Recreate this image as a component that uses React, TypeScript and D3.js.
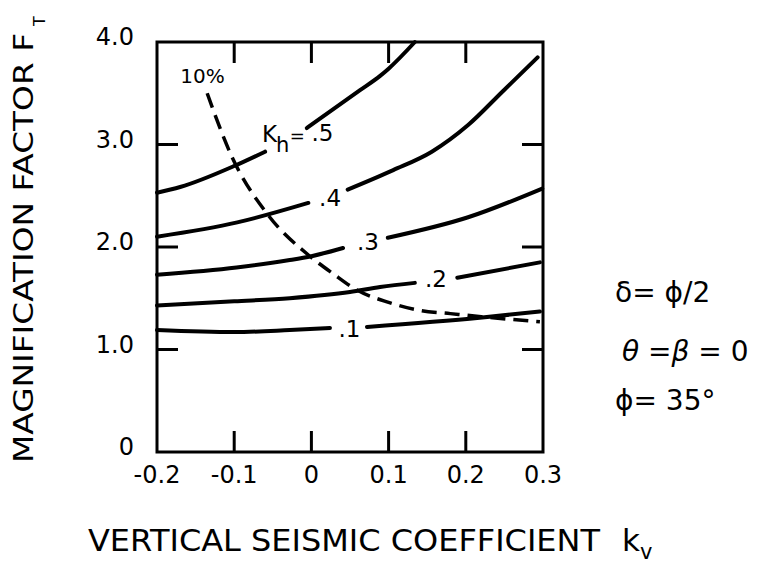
import React from "react";
import * as d3 from "d3";

// ---- data ----
const xTicks = [-0.2, -0.1, 0, 0.1, 0.2, 0.3];
const xTickLabels = ["-0.2", "-0.1", "0", "0.1", "0.2", "0.3"];
const yTicks = [0, 1, 2, 3, 4];
const yTickLabels = ["0", "1.0", "2.0", "3.0", "4.0"];

// each curve: two segments (gap left for its label)
const kh5a: [number, number][] = [[-0.2, 2.53], [-0.17, 2.585], [-0.1, 2.79], [-0.06, 2.93]];
const kh5b: [number, number][] = [[-0.006, 3.16], [0.063, 3.53], [0.089, 3.67], [0.1, 3.74], [0.134, 4.0]];
const kh4a: [number, number][] = [[-0.2, 2.1], [-0.096, 2.24], [-0.004, 2.43]];
const kh4b: [number, number][] = [[0.047, 2.56], [0.106, 2.75], [0.156, 2.93], [0.203, 3.19], [0.248, 3.52], [0.293, 3.85]];
const kh3a: [number, number][] = [[-0.2, 1.73], [-0.097, 1.8], [-0.03, 1.87], [0.0, 1.91], [0.041, 1.99]];
const kh3b: [number, number][] = [[0.099, 2.09], [0.203, 2.29], [0.299, 2.57]];
const kh2a: [number, number][] = [[-0.2, 1.43], [-0.1, 1.47], [-0.028, 1.5], [0.05, 1.56], [0.089, 1.61], [0.134, 1.65]];
const kh2b: [number, number][] = [[0.189, 1.7], [0.296, 1.85]];
const kh1a: [number, number][] = [[-0.2, 1.19], [-0.1, 1.17], [-0.028, 1.19], [0.024, 1.21]];
const kh1b: [number, number][] = [[0.072, 1.22], [0.218, 1.31], [0.296, 1.37]];
const tenPct: [number, number][] = [
  [-0.135, 3.5], [-0.103, 2.88], [-0.058, 2.33], [-0.002, 1.91], [0.028, 1.74],
  [0.059, 1.58], [0.1, 1.46], [0.141, 1.38], [0.18, 1.35], [0.22, 1.32], [0.296, 1.27],
];

const solidSegments = [kh5a, kh5b, kh4a, kh4b, kh3a, kh3b, kh2a, kh2b, kh1a, kh1b];

// ---- layout ----
const W = 761, H = 566;
const L = 157, R = 543, T = 42, B = 452;
const FONT = "'DejaVu Sans', sans-serif";

export default function App() {
  const x = d3.scaleLinear().domain([-0.2, 0.3]).range([L, R]);
  const y = d3.scaleLinear().domain([0, 4]).range([B, T]);
  const line = d3
    .line<[number, number]>()
    .x((d) => x(d[0]))
    .y((d) => y(d[1]))
    .curve(d3.curveMonotoneX);

  const innerX = xTicks.slice(1, -1);
  const innerY = yTicks.slice(1, -1);
  const tickLen = 21;

  return (
    <svg
      width={W}
      height={H}
      style={{ position: "absolute", left: 0, top: 0, background: "#fff" }}
      fontFamily={FONT}
    >
      <rect x={0} y={0} width={W} height={H} fill="#fff" />
      {/* frame */}
      <rect x={L} y={T} width={R - L} height={B - T} fill="none" stroke="#000" strokeWidth={3} />
      {/* ticks */}
      {innerX.map((v) => (
        <g key={"xt" + v} stroke="#000" strokeWidth={3}>
          <line x1={x(v)} x2={x(v)} y1={B} y2={B - tickLen} />
          <line x1={x(v)} x2={x(v)} y1={T} y2={T + tickLen} />
        </g>
      ))}
      {innerY.map((v) => (
        <g key={"yt" + v} stroke="#000" strokeWidth={3}>
          <line x1={L} x2={L + tickLen} y1={y(v)} y2={y(v)} />
          <line x1={R} x2={R - tickLen} y1={y(v)} y2={y(v)} />
        </g>
      ))}
      {/* tick labels */}
      {xTicks.map((v, i) => (
        <text key={"xl" + v} x={x(v)} y={B + 31} fontSize={24} textAnchor="middle">
          {xTickLabels[i]}
        </text>
      ))}
      {yTicks.map((v, i) => (
        <text key={"yl" + v} x={134} y={y(v) + 3} fontSize={24} textAnchor="end">
          {yTickLabels[i]}
        </text>
      ))}
      {/* curves */}
      {solidSegments.map((s, i) => (
        <path key={"c" + i} d={line(s) || ""} fill="none" stroke="#000" strokeWidth={4} strokeLinecap="round" />
      ))}
      <path d={line(tenPct) || ""} fill="none" stroke="#000" strokeWidth={3.5} strokeDasharray="15 8" />
      {/* curve labels */}
      <text x={x(-0.141)} y={y(3.6)} fontSize={20} textAnchor="middle">10%</text>
      <text x={x(-0.064)} y={y(3.02)} fontSize={23}>K</text>
      <text x={x(-0.046)} y={y(2.93)} fontSize={21}>h</text>
      <text x={x(-0.028)} y={y(3.02)} fontSize={18}>=</text>
      <text x={x(0.0)} y={y(3.03)} fontSize={23}>.5</text>
      <text x={x(0.01)} y={y(2.4)} fontSize={23}>.4</text>
      <text x={x(0.059)} y={y(1.97)} fontSize={23}>.3</text>
      <text x={x(0.147)} y={y(1.61)} fontSize={23}>.2</text>
      <text x={x(0.035)} y={y(1.12)} fontSize={23}>.1</text>
      {/* side annotations */}
      <text x={615} y={302} fontSize={28}>δ= ϕ/2</text>
      <text x={622} y={361} fontSize={28}>
        <tspan fontStyle="italic">θ</tspan> =<tspan fontStyle="italic">β</tspan> = 0
      </text>
      <text x={615} y={410} fontSize={28}>ϕ= 35°</text>
      {/* axis titles */}
      <text x={88} y={551} fontSize={30} textLength={512} lengthAdjust="spacingAndGlyphs">
        VERTICAL SEISMIC COEFFICIENT
      </text>
      <text x={622} y={551} fontSize={31}>k</text>
      <text x={640} y={559} fontSize={21}>v</text>
      <text
        transform={`translate(33,463) rotate(-90)`}
        fontSize={27}
        textLength={430}
        lengthAdjust="spacingAndGlyphs"
      >
        MAGNIFICATION FACTOR F
      </text>
      <text transform={`translate(45,26) rotate(-90)`} fontSize={16}>T</text>
    </svg>
  );
}
